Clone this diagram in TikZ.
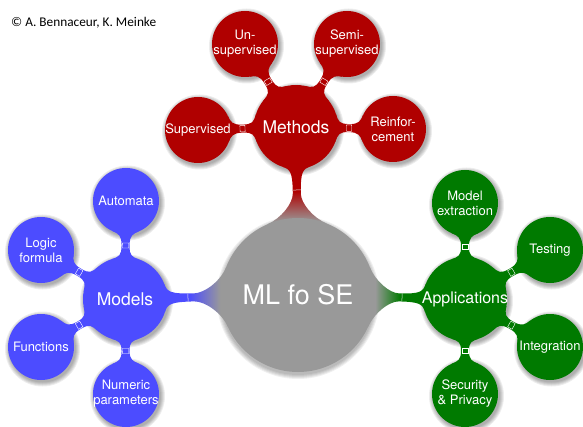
\documentclass[tikz,border=0pt]{standalone}
\usepackage{fontspec}
\setmainfont{TeX Gyre Heros}
\newfontfamily\copyfont{Carlito}
\usetikzlibrary{calc}
\pgfdeclarelayer{shadows}
\pgfdeclarelayer{background}
\pgfsetlayers{shadows,background,main}
\definecolor{cred}{RGB}{176,0,0}
\definecolor{cblue}{RGB}{76,76,255}
\definecolor{cgreen}{RGB}{0,122,0}
\definecolor{cgray}{RGB}{153,153,153}
\pgfdeclareverticalshading{graytored}{100bp}{color(0bp)=(cgray); color(27bp)=(cgray); color(54bp)=(cred); color(100bp)=(cred)}
\pgfdeclarehorizontalshading{bluetogray}{100bp}{color(0bp)=(cblue); color(45bp)=(cblue); color(69bp)=(cgray); color(100bp)=(cgray)}
\pgfdeclarehorizontalshading{graytogreen}{100bp}{color(0bp)=(cgray); color(31bp)=(cgray); color(53bp)=(cgreen); color(100bp)=(cgreen)}
\tikzset{
 bubble/.style={circle, inner sep=-12pt, text=white, align=center},
 rootb/.style={bubble, fill=cgray, minimum size=154pt, font=\fontsize{27}{30}\selectfont},
 mainb/.style={bubble, minimum size=84pt, font=\fontsize{17.5}{20}\selectfont},
 leafb/.style={bubble, minimum size=66pt, font=\fontsize{13}{15}\selectfont},
 boxmark/.style={shape=rectangle, draw=white, line width=0.4pt, minimum width=5pt, minimum height=6.5pt, inner sep=0pt},
 linemark/.style={shape=rectangle, draw=white!80!gray, line width=0.5pt, minimum width=0pt, minimum height=8pt, inner sep=0pt},
}
% local point: s along the axis A->B, t across it
\newcommand\lp[3]{%
 \pgfmathsetmacro\nkX{\nkax+(#2)*cos(\nkth)-(#3)*sin(\nkth)}%
 \pgfmathsetmacro\nkY{\nkay+(#2)*sin(\nkth)+(#3)*cos(\nkth)}%
 \coordinate (#1) at (\nkX pt,\nkY pt);}
% \neck{A}{B}{rA}{rB}{path options}{marker position from A}{marker style}
\newcommand\neck[7]{%
 \pgfpointanchor{#1}{center}\pgfgetlastxy{\nkax}{\nkay}%
 \pgfpointanchor{#2}{center}\pgfgetlastxy{\nkbx}{\nkby}%
 \pgfmathsetmacro\nkth{atan2(\nkby-\nkay,\nkbx-\nkax)}%
 \pgfmathsetmacro\nkD{veclen(\nkbx-\nkax,\nkby-\nkay)}%
 \pgfmathsetmacro\nkg{\nkD-#3-#4}%
 \pgfmathsetmacro\nksa{#3>60 ? 30 : 10+0.1*#3}\pgfmathsetmacro\nksb{#4>60 ? 30 : 10+0.1*#4}%
 \pgfmathsetmacro\nkha{(#3>60 ? 0.2 : 0.45)*\nkg}\pgfmathsetmacro\nkhb{(#4>60 ? 0.2 : 0.45)*\nkg}%
 \pgfmathsetmacro\nkfa{asin(\nksa/#3)}\pgfmathsetmacro\nkfb{asin(\nksb/#4)}%
 \pgfmathsetmacro\nkm{(\nkD+#3-#4)/2}%
 \pgfmathsetmacro\nkka{0.2*#3}\pgfmathsetmacro\nkkb{0.2*#4}%
 \pgfmathsetmacro\nkpa{#3*cos(\nkfa)}\pgfmathsetmacro\nkpb{\nkD-#4*cos(\nkfb)}%
 \lp{nP1}{\nkpa}{\nksa}%
 \lp{nC1}{\nkpa+\nkka*sin(\nkfa)}{\nksa-\nkka*cos(\nkfa)}%
 \lp{nC2}{\nkm-\nkha}{4}%
 \lp{nS1}{\nkm}{4}%
 \lp{nC3}{\nkm+\nkhb}{4}%
 \lp{nC4}{\nkpb-\nkkb*sin(\nkfb)}{\nksb-\nkkb*cos(\nkfb)}%
 \lp{nQ1}{\nkpb}{\nksb}%
 \lp{nQ2}{\nkpb}{-\nksb}%
 \lp{nC5}{\nkpb-\nkkb*sin(\nkfb)}{-\nksb+\nkkb*cos(\nkfb)}%
 \lp{nC6}{\nkm+\nkhb}{-4}%
 \lp{nS2}{\nkm}{-4}%
 \lp{nC7}{\nkm-\nkha}{-4}%
 \lp{nC8}{\nkpa+\nkka*sin(\nkfa)}{-\nksa+\nkka*cos(\nkfa)}%
 \lp{nP2}{\nkpa}{-\nksa}%
 \lp{nMk}{#6}{0}%
 \path[#5] (nP1) .. controls (nC1) and (nC2) .. (nS1) .. controls (nC3) and (nC4) .. (nQ1)
   -- (nQ2) .. controls (nC5) and (nC6) .. (nS2) .. controls (nC7) and (nC8) .. (nP2) -- cycle;
 \node[#7, rotate=\nkth] (mk-#1-#2) at (nMk) {};
}
% soft drop shadow of a circle node
\newcommand\softsh[5]{% node, radius, dx, dy, opacity
 \foreach \k in {0.5,1.5,2.5,3.5,4.5}{%
  \pgfmathsetmacro\rr{#2+\k}%
  \fill[black, opacity=#5] ($(#1.center)+(#3,#4)$) circle[radius=\rr];}}
\begin{document}
\begin{tikzpicture}[x=1pt,y=1pt]
\useasboundingbox (0,0) rectangle (583,426);
% nodes
\node[rootb] (C) at (298,131) {ML fo SE};
\node[mainb, fill=cred] (M) at (296,299) {Methods};
\node[leafb, fill=cred] (Un) at (245,382) {Un-\\supervised};
\node[leafb, fill=cred] (Semi) at (347,382) {Semi-\\supervised};
\node[leafb, fill=cred] (Sup) at (198,296) {Supervised};
\node[leafb, fill=cred] (Rein) at (393,297) {Reinfor-\\cement};
\node[mainb, fill=cblue] (Mod) at (125,127) {Models};
\node[leafb, fill=cblue] (Auto) at (126,225) {Automata};
\node[leafb, fill=cblue] (Logic) at (41,176) {Logic\\formula};
\node[leafb, fill=cblue] (Func) at (41,79) {Functions};
\node[leafb, fill=cblue] (Num) at (126,32) {Numeric\\parameters};
\node[mainb, fill=cgreen, font=\fontsize{16}{19}\selectfont] (App) at (465,127) {Applications};
\node[leafb, fill=cgreen] (MEx) at (465,223) {Model\\extraction};
\node[leafb, fill=cgreen] (Test) at (550,176) {Testing};
\node[leafb, fill=cgreen] (Integ) at (550,79) {Integration};
\node[leafb, fill=cgreen] (Sec) at (465,32) {Security\\\& Privacy};
\node[anchor=west, inner sep=0pt, font=\copyfont\fontsize{13.3}{15}\selectfont] (copy) at (11,403) {© A. Bennaceur, K. Meinke};
% connectors
\begin{pgfonlayer}{background}
\neck{M}{Un}{42}{33}{fill=cred}{\nkm}{boxmark}
\neck{M}{Semi}{42}{33}{fill=cred}{\nkm}{boxmark}
\neck{M}{Sup}{42}{33}{fill=cred}{\nkm}{boxmark}
\neck{M}{Rein}{42}{33}{fill=cred}{\nkm}{boxmark}
\neck{Mod}{Auto}{42}{33}{fill=cblue}{\nkm}{boxmark}
\neck{Mod}{Logic}{42}{33}{fill=cblue}{\nkm}{boxmark}
\neck{Mod}{Func}{42}{33}{fill=cblue}{\nkm}{boxmark}
\neck{Mod}{Num}{42}{33}{fill=cblue}{\nkm}{boxmark}
\neck{App}{MEx}{42}{33}{fill=cgreen}{\nkm}{boxmark}
\neck{App}{Test}{42}{33}{fill=cgreen}{\nkm}{boxmark}
\neck{App}{Integ}{42}{33}{fill=cgreen}{\nkm}{boxmark}
\neck{App}{Sec}{42}{33}{fill=cgreen}{\nkm}{boxmark}
\neck{M}{C}{42}{77}{shade, shading=graytored}{63}{linemark}
\neck{Mod}{C}{42}{77}{shade, shading=bluetogray}{63}{linemark}
\neck{C}{App}{77}{42}{shade, shading=graytogreen}{\nkD-63}{linemark}
\end{pgfonlayer}
% shadows
\begin{pgfonlayer}{shadows}
\fill[white] (0,0) rectangle (583,426);
\softsh{C}{77}{0}{-2.5}{0.06}
\foreach \nd in {M,Mod,App}{\softsh{\nd}{42}{1.5}{-2}{0.07}}
\foreach \nd in {Un,Semi,Sup,Rein,Auto,Logic,Func,Num,MEx,Test,Integ,Sec}{\softsh{\nd}{33}{1.5}{-2}{0.07}}
\end{pgfonlayer}
\end{tikzpicture}
\end{document}
